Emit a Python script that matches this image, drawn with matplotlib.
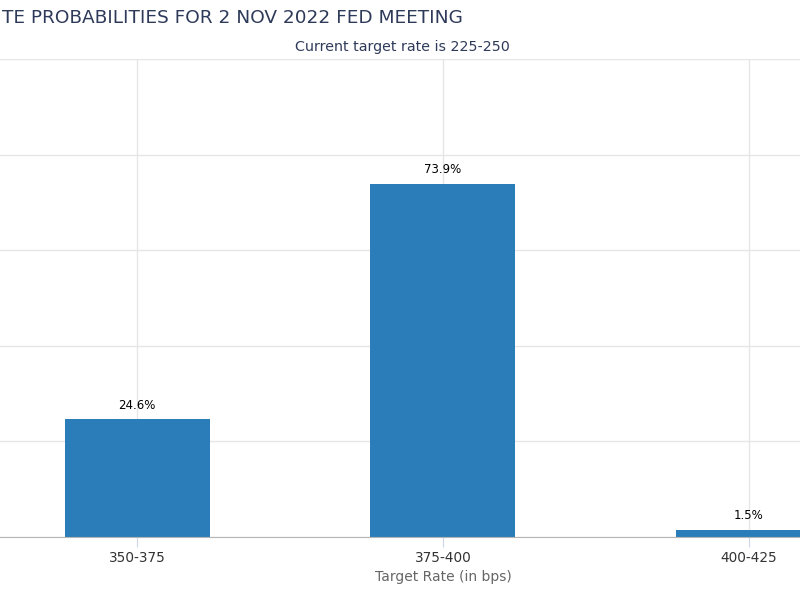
import matplotlib
matplotlib.use("Agg")
import matplotlib.pyplot as plt
import matplotlib.transforms as mtransforms

# 目标利率区间及概率
rates = ["350-375", "375-400", "400-425"]
probs = [24.6, 73.9, 1.5]
y_ticks = [0, 20, 40, 60, 80, 100]

bar_color = "#2a7db8"
grid_color = "#e6e6e6"

fig = plt.figure(figsize=(8, 6), dpi=100)
ax = fig.add_axes([0, 63 / 600, 1, 478 / 600])

x = list(range(len(rates)))
ax.bar(x, probs, width=0.474, color=bar_color, zorder=3)

for xi, p in zip(x, probs):
    ax.annotate("%.1f%%" % p, (xi, p), xytext=(0, 10), textcoords="offset points",
                ha="center", va="center", fontsize=8.5, color="#000000", zorder=4)

ax.set_xlim(-0.448, 2.167)
ax.set_ylim(0, 100)
ax.set_xticks(x)
ax.set_xticklabels(rates, fontsize=9.8, color="#333333")
ax.set_yticks(y_ticks)
ax.tick_params(axis="x", length=7, color="#ccd6eb", pad=3)
ax.tick_params(axis="y", left=False, labelleft=False)
ax.grid(True, color=grid_color, linewidth=1, zorder=0)

for s in ["left", "right", "top"]:
    ax.spines[s].set_visible(False)
ax.spines["bottom"].set_color("#b5b5b5")
ax.spines["bottom"].set_zorder(5)

trans = mtransforms.blended_transform_factory(ax.transData, fig.transFigure)
ax.text(1, 1 - 577 / 600, "Target Rate (in bps)", transform=trans,
        ha="center", va="center", fontsize=10, color="#666666")

fig.text(0.003, 1 - 18 / 600, "TE PROBABILITIES FOR 2 NOV 2022 FED MEETING",
         ha="left", va="center", fontsize=13.3, color="#2e3a59")
fig.text(402 / 800, 1 - 47 / 600, "Current target rate is 225-250",
         ha="center", va="center", fontsize=10.3, color="#2e3a59")

fig.savefig("out.png", dpi=100)
